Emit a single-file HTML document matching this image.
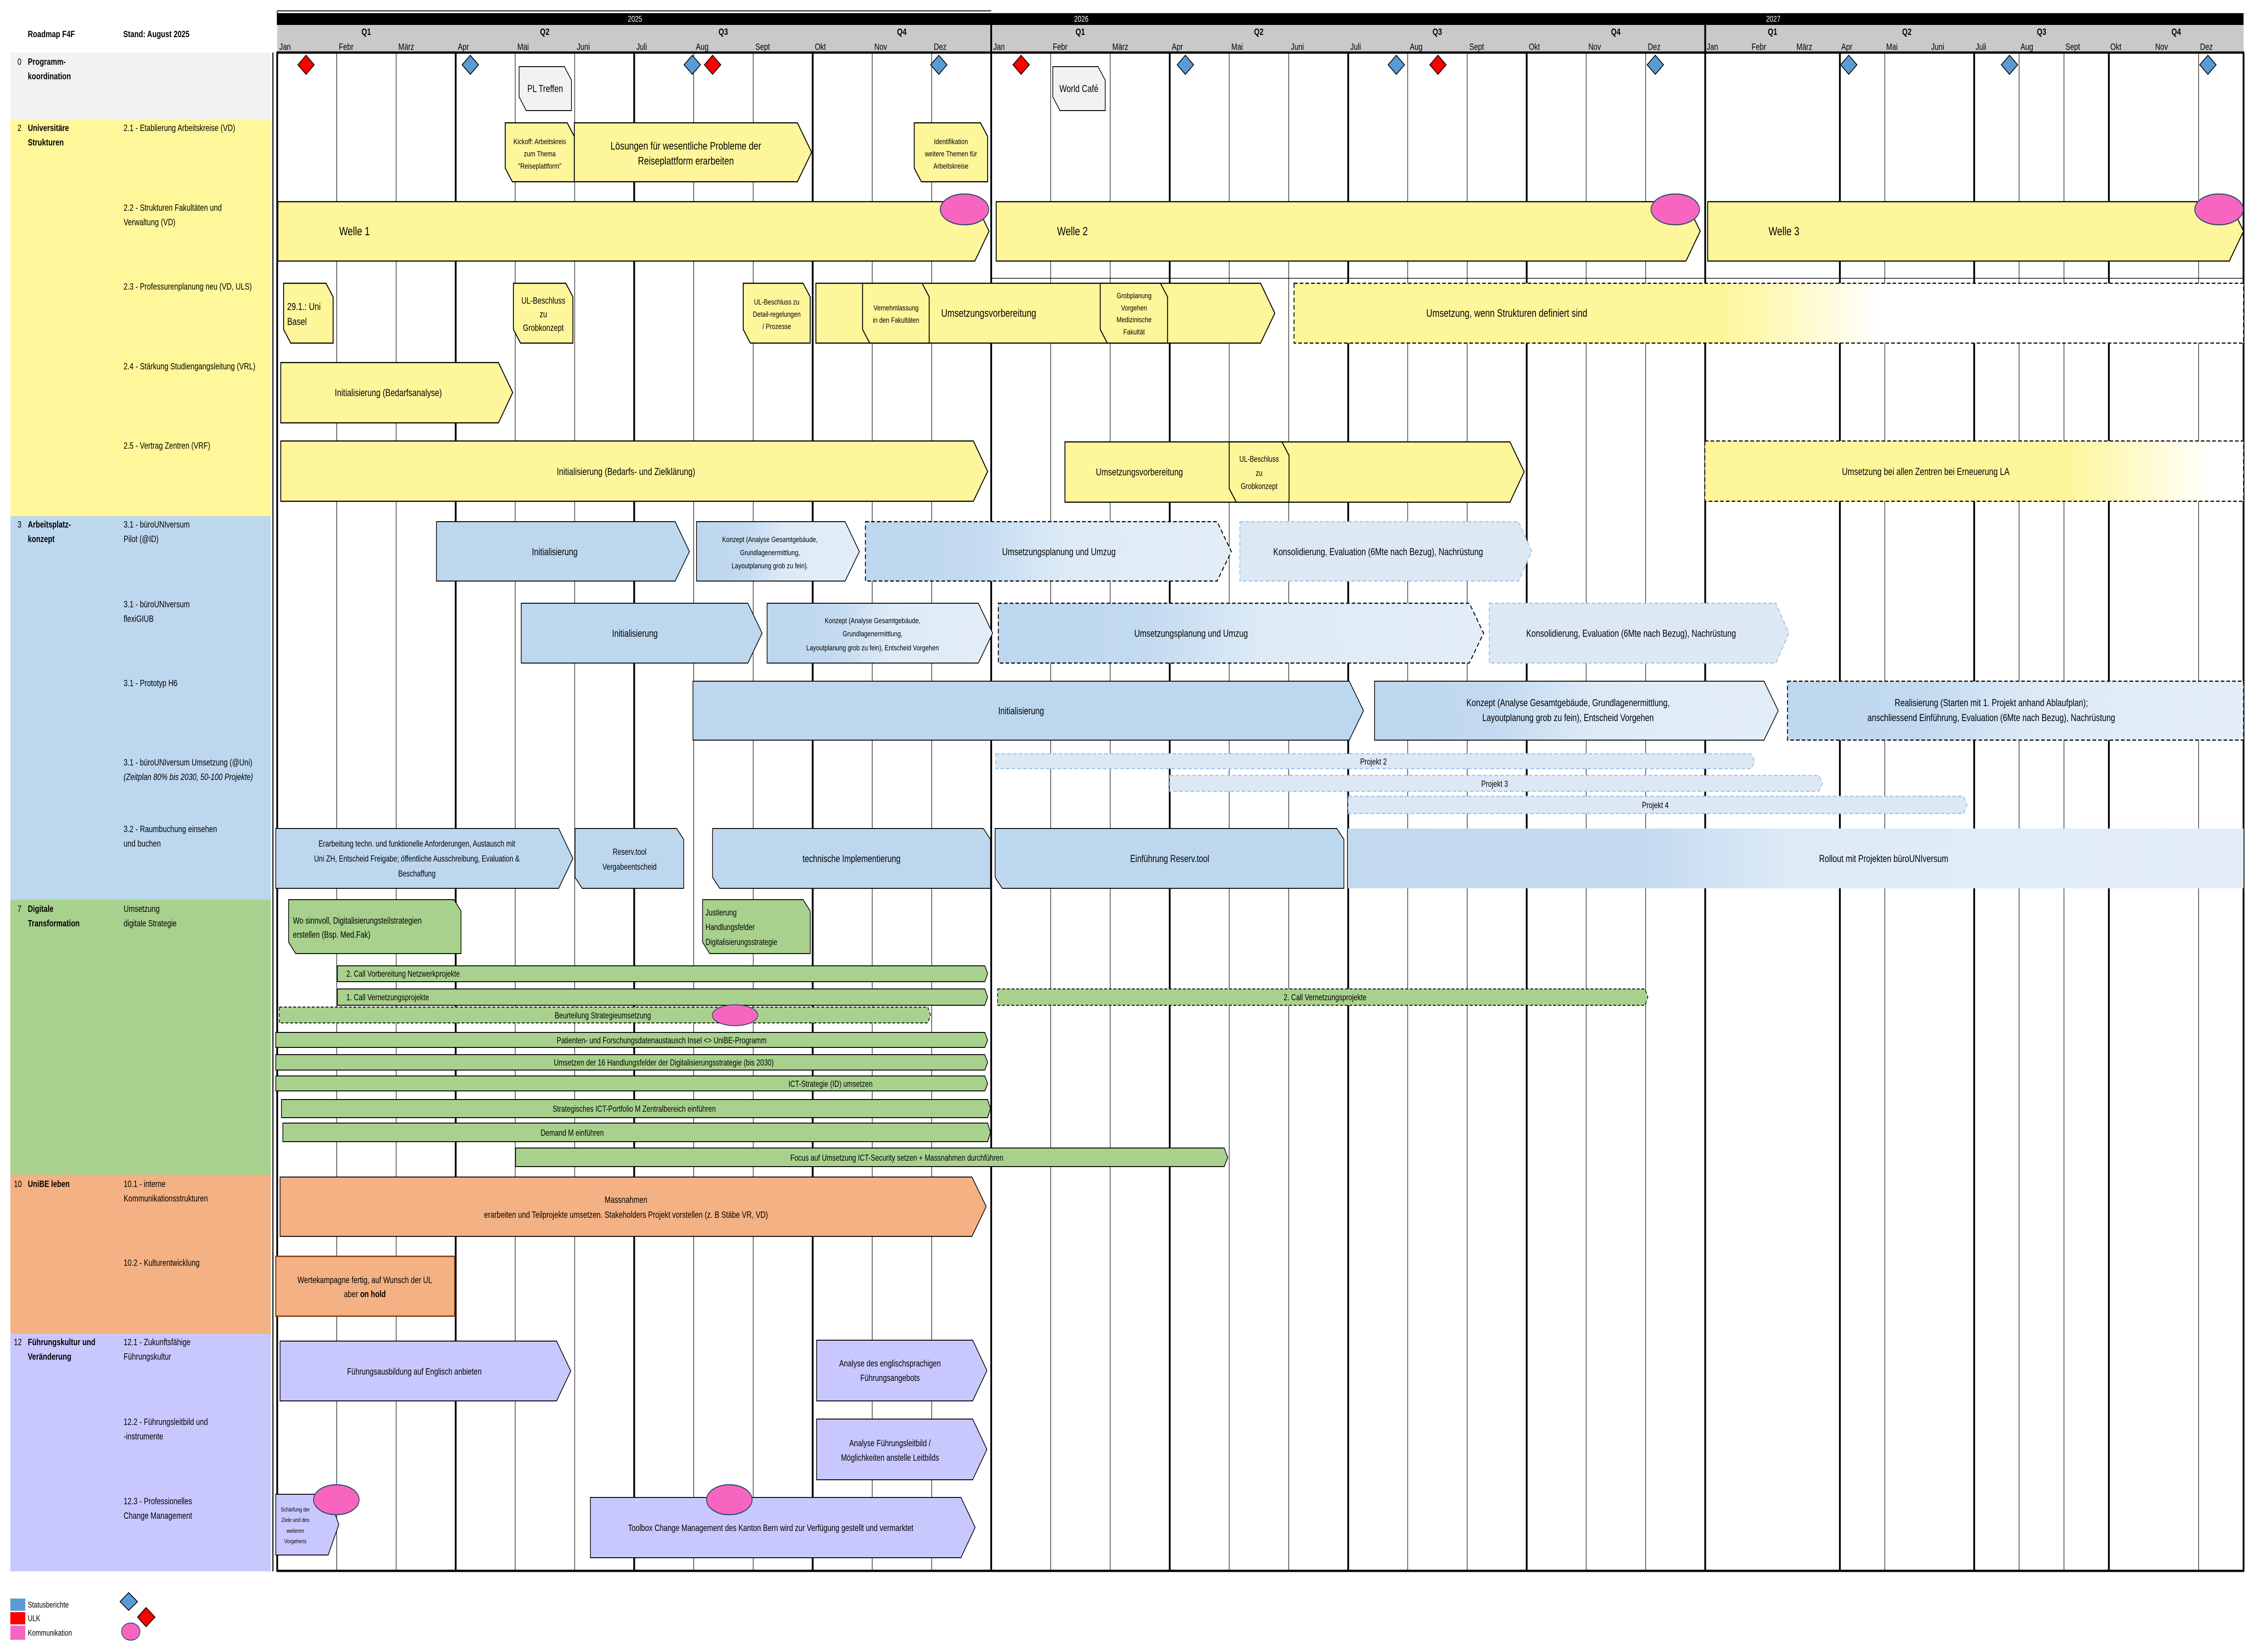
<!DOCTYPE html>
<html><head><meta charset="utf-8"><style>
html,body{margin:0;padding:0;background:#fff;overflow:hidden;}
svg{display:block;width:100vw;height:100vh;}
text{font-family:"Liberation Sans Narrow","Liberation Sans",sans-serif;fill:#000;}
</style></head><body>
<svg viewBox="0 0 6360 3645" preserveAspectRatio="none" xmlns="http://www.w3.org/2000/svg">
<defs>
<linearGradient id="gb" x1="0" x2="1" y1="0" y2="0"><stop offset="0" stop-color="#BDD7EE"/><stop offset="0.3" stop-color="#C3DAF0"/><stop offset="0.55" stop-color="#DEEBF7"/><stop offset="1" stop-color="#E2EDF8"/></linearGradient>
<linearGradient id="gr" x1="0" x2="1" y1="0" y2="0"><stop offset="0" stop-color="#C2D9EF"/><stop offset="0.33" stop-color="#C4DAEF"/><stop offset="0.5" stop-color="#DEEBF7"/><stop offset="1" stop-color="#E2EDF8"/></linearGradient>
<linearGradient id="gy1" x1="0" x2="1" y1="0" y2="0"><stop offset="0" stop-color="#FEF69A"/><stop offset="0.45" stop-color="#FEF69A"/><stop offset="0.62" stop-color="#FFFFFF"/><stop offset="1" stop-color="#FFFFFF"/></linearGradient>
<linearGradient id="gy2" x1="0" x2="1" y1="0" y2="0"><stop offset="0" stop-color="#FEF69A"/><stop offset="0.67" stop-color="#FEF69A"/><stop offset="0.94" stop-color="#FFFFFF"/><stop offset="1" stop-color="#FFFFFF"/></linearGradient>
</defs>

<rect x="29" y="116" width="731" height="148" fill="#F2F2F2"/>
<rect x="29" y="264" width="731" height="875" fill="#FFF799"/>
<rect x="29" y="1139" width="731" height="846" fill="#BDD7EE"/>
<rect x="29" y="1985" width="731" height="607" fill="#A9D18E"/>
<rect x="29" y="2592" width="731" height="351" fill="#F4B183"/>
<rect x="29" y="2943" width="731" height="524" fill="#C8C8FF"/>
<line x1="766" y1="116" x2="766" y2="3467" stroke="#000" stroke-width="3"/>

<rect x="778" y="29" width="5519" height="26" fill="#000"/>
<rect x="778" y="55" width="5519" height="61" fill="#C9C9C9"/>
<line x1="778" y1="24" x2="2782" y2="24" stroke="#000" stroke-width="2"/>
<line x1="778" y1="24" x2="778" y2="55" stroke="#000" stroke-width="2"/>

<g stroke="#000">
<g stroke-width="1.5">
<line x1="945" y1="116" x2="945" y2="3466"/><line x1="1112" y1="116" x2="1112" y2="3466"/>
<line x1="1446" y1="116" x2="1446" y2="3466"/><line x1="1613" y1="116" x2="1613" y2="3466"/>
<line x1="1947" y1="116" x2="1947" y2="3466"/><line x1="2114" y1="116" x2="2114" y2="3466"/>
<line x1="2448" y1="116" x2="2448" y2="3466"/><line x1="2615" y1="116" x2="2615" y2="3466"/>
<line x1="2949" y1="116" x2="2949" y2="3466"/><line x1="3116" y1="116" x2="3116" y2="3466"/>
<line x1="3450" y1="116" x2="3450" y2="3466"/><line x1="3617" y1="116" x2="3617" y2="3466"/>
<line x1="3951" y1="116" x2="3951" y2="3466"/><line x1="4118" y1="116" x2="4118" y2="3466"/>
<line x1="4452" y1="116" x2="4452" y2="3466"/><line x1="4619" y1="116" x2="4619" y2="3466"/>
<line x1="5290" y1="116" x2="5290" y2="3466"/><line x1="5667" y1="116" x2="5667" y2="3466"/>
<line x1="5793" y1="116" x2="5793" y2="3466"/><line x1="6171" y1="116" x2="6171" y2="3466"/>
<line x1="2782" y1="614" x2="6297" y2="614"/>
</g>
<g stroke-width="5">
<line x1="778" y1="116" x2="778" y2="3466"/><line x1="1279" y1="116" x2="1279" y2="3466"/>
<line x1="1780" y1="116" x2="1780" y2="3466"/><line x1="2281" y1="116" x2="2281" y2="3466"/>
<line x1="2782" y1="55" x2="2782" y2="3466"/><line x1="3283" y1="116" x2="3283" y2="3466"/>
<line x1="3784" y1="116" x2="3784" y2="3466"/><line x1="4285" y1="116" x2="4285" y2="3466"/>
<line x1="4786" y1="55" x2="4786" y2="3466"/><line x1="5164" y1="116" x2="5164" y2="3466"/>
<line x1="5541" y1="116" x2="5541" y2="3466"/><line x1="5919" y1="116" x2="5919" y2="3466"/>
<line x1="6297" y1="116" x2="6297" y2="3466"/>
<line x1="776" y1="116" x2="6299" y2="116"/>
<line x1="776" y1="3466" x2="6299" y2="3466"/>
</g>
</g>

<text x="78" y="82" font-size="20" font-weight="bold">Roadmap F4F</text>
<text x="346" y="82" font-size="20" font-weight="bold">Stand: August 2025</text>
<g font-size="18" text-anchor="middle"><text x="1782" y="48" style="fill:#fff">2025</text><text x="3035" y="48" style="fill:#fff">2026</text><text x="4977" y="48" style="fill:#fff">2027</text></g>
<g font-size="20" font-weight="bold" text-anchor="middle">
<text x="1028" y="77">Q1</text><text x="1529" y="77">Q2</text><text x="2030" y="77">Q3</text><text x="2531" y="77">Q4</text>
<text x="3032" y="77">Q1</text><text x="3533" y="77">Q2</text><text x="4034" y="77">Q3</text><text x="4535" y="77">Q4</text>
<text x="4975" y="77">Q1</text><text x="5352" y="77">Q2</text><text x="5730" y="77">Q3</text><text x="6108" y="77">Q4</text>
</g>
<g font-size="20">
<text x="784" y="110">Jan</text><text x="951" y="110">Febr</text><text x="1118" y="110">März</text><text x="1285" y="110">Apr</text><text x="1452" y="110">Mai</text><text x="1619" y="110">Juni</text><text x="1786" y="110">Juli</text><text x="1953" y="110">Aug</text><text x="2120" y="110">Sept</text><text x="2287" y="110">Okt</text><text x="2454" y="110">Nov</text><text x="2621" y="110">Dez</text>
<text x="2788" y="110">Jan</text><text x="2955" y="110">Febr</text><text x="3122" y="110">März</text><text x="3289" y="110">Apr</text><text x="3456" y="110">Mai</text><text x="3623" y="110">Juni</text><text x="3790" y="110">Juli</text><text x="3957" y="110">Aug</text><text x="4124" y="110">Sept</text><text x="4291" y="110">Okt</text><text x="4458" y="110">Nov</text><text x="4625" y="110">Dez</text>
<text x="4790" y="110">Jan</text><text x="4916" y="110">Febr</text><text x="5042" y="110">März</text><text x="5168" y="110">Apr</text><text x="5294" y="110">Mai</text><text x="5420" y="110">Juni</text><text x="5545" y="110">Juli</text><text x="5671" y="110">Aug</text><text x="5797" y="110">Sept</text><text x="5923" y="110">Okt</text><text x="6049" y="110">Nov</text><text x="6175" y="110">Dez</text>
</g>

<g font-size="20">
<text x="49" y="143">0</text><text x="78" y="143" font-weight="bold">Programm-</text><text x="78" y="175" font-weight="bold">koordination</text>
<text x="49" y="289">2</text><text x="78" y="289" font-weight="bold">Universitäre</text><text x="78" y="321" font-weight="bold">Strukturen</text>
<text x="347" y="289">2.1 - Etablierung Arbeitskreise  (VD)</text>
<text x="347" y="465">2.2 - Strukturen Fakultäten und</text><text x="347" y="497">Verwaltung (VD)</text>
<text x="347" y="639">2.3 - Professurenplanung neu (VD, ULS)</text>
<text x="347" y="815">2.4 - Stärkung Studiengangsleitung (VRL)</text>
<text x="347" y="990">2.5 - Vertrag Zentren (VRF)</text>
<text x="49" y="1164">3</text><text x="78" y="1164" font-weight="bold">Arbeitsplatz-</text><text x="78" y="1196" font-weight="bold">konzept</text>
<text x="347" y="1164">3.1 - büroUNIversum</text><text x="347" y="1196">Pilot (@ID)</text>
<text x="347" y="1340">3.1 - büroUNIversum</text><text x="347" y="1372">flexiGIUB</text>
<text x="347" y="1514">3.1 - Prototyp H6</text>
<text x="347" y="1689">3.1 - büroUNIversum Umsetzung (@Uni)</text><text x="347" y="1721" font-style="italic">(Zeitplan 80% bis 2030, 50-100 Projekte)</text>
<text x="347" y="1836">3.2 - Raumbuchung einsehen</text><text x="347" y="1868">und buchen</text>
<text x="49" y="2012">7</text><text x="78" y="2012" font-weight="bold">Digitale</text><text x="78" y="2044" font-weight="bold">Transformation</text>
<text x="347" y="2012">Umsetzung</text><text x="347" y="2044">digitale Strategie</text>
<text x="39" y="2619">10</text><text x="78" y="2619" font-weight="bold">UniBE leben</text>
<text x="347" y="2619">10.1 - interne</text><text x="347" y="2651">Kommunikationsstrukturen</text>
<text x="347" y="2793">10.2 - Kulturentwicklung</text>
<text x="39" y="2968">12</text><text x="78" y="2968" font-weight="bold">Führungskultur und</text><text x="78" y="3000" font-weight="bold">Veränderung</text>
<text x="347" y="2968">12.1 - Zukunftsfähige</text><text x="347" y="3000">Führungskultur</text>
<text x="347" y="3144">12.2 - Führungsleitbild und</text><text x="347" y="3176">-instrumente</text>
<text x="347" y="3319">12.3 - Professionelles</text><text x="347" y="3351">Change Management</text>
</g>

<g stroke="#000" stroke-width="2">
<g fill="#5B9BD5">
<polygon points="1320,122 1343,143 1320,164 1297,143"/><polygon points="1943,122 1966,143 1943,164 1920,143"/><polygon points="2635,122 2658,143 2635,164 2612,143"/>
<polygon points="3327,122 3350,143 3327,164 3304,143"/><polygon points="3919,122 3942,143 3919,164 3896,143"/><polygon points="4646,122 4669,143 4646,164 4623,143"/>
<polygon points="5189,122 5212,143 5189,164 5166,143"/><polygon points="5640,122 5663,143 5640,164 5617,143"/><polygon points="6197,122 6220,143 6197,164 6174,143"/>
</g>
<g fill="#FF0000">
<polygon points="859,122 882,143 859,164 836,143"/><polygon points="2000,122 2023,143 2000,164 1977,143"/><polygon points="2866,122 2889,143 2866,164 2843,143"/><polygon points="4036,122 4059,143 4036,164 4013,143"/>
</g>
<g fill="#F2F2F2">
<polygon points="1457,147 1584,147 1604,177 1604,244 1477,244 1457,214"/>
<polygon points="2955,147 3082,147 3102,177 3102,244 2975,244 2955,214"/>
</g>
</g>
<g font-size="22" text-anchor="middle"><text x="1530" y="203">PL Treffen</text><text x="3028" y="203">World Café</text></g>

<g stroke="#000" stroke-width="2.5" fill="#FEF69A">
<polygon points="1418,271 1592,271 1612,301 1612,401 1438,401 1418,371"/>
<polygon points="1612,271 2238,271 2278,336 2238,401 1612,401"/>
<polygon points="2566,271 2752,271 2772,301 2772,401 2586,401 2566,371"/>
<polygon points="780,445 2736,445 2776,510 2736,576 780,576"/>
<polygon points="2796,445 4732,445 4772,510 4732,576 2796,576"/>
<polygon points="4793,445 6257,445 6297,510 6257,576 4793,576"/>
<polygon points="796,625 915,625 935,655 935,757 816,757 796,727"/>
<polygon points="1441,625 1588,625 1608,655 1608,757 1461,757 1441,727"/>
<polygon points="2086,625 2254,625 2274,655 2274,757 2106,757 2086,727"/>
<polygon points="2290,625 3538,625 3578,691 3538,757 2290,757"/>
<polygon points="2421,625 2588,625 2608,655 2608,757 2441,757 2421,727"/>
<polygon points="3088,625 3257,625 3277,655 3277,757 3108,757 3088,727"/>
<polygon points="788,800 1399,800 1439,866 1399,933 788,933"/>
<polygon points="788,973 2732,973 2772,1040 2732,1106 788,1106"/>
<polygon points="2989,975 4238,975 4278,1041 4238,1108 2989,1108"/>
<polygon points="3450,975 3598,975 3618,1005 3618,1108 3470,1108 3450,1078"/>
</g>
<g stroke="#000" stroke-width="2.5" stroke-dasharray="10,6">
<rect x="3632" y="625" width="2665" height="132" fill="url(#gy1)"/>
<rect x="4785" y="973" width="1512" height="133" fill="url(#gy2)"/>
</g>
<g fill="#F865C0" stroke="#2F4F6F" stroke-width="2.5">
<ellipse cx="2707" cy="462" rx="68" ry="34"/><ellipse cx="4702" cy="462" rx="68" ry="34"/><ellipse cx="6228" cy="462" rx="68" ry="34"/>
</g>
<g text-anchor="middle">
<g font-size="17"><text x="1515" y="318">Kickoff: Arbeitskreis</text><text x="1515" y="345">zum Thema</text><text x="1515" y="372">"Reiseplattform"</text>
<text x="2669" y="318">Identifikation</text><text x="2669" y="345">weitere Themen für</text><text x="2669" y="372">Arbeitskreise</text></g>
<g font-size="24"><text x="1925" y="330">Lösungen für wesentliche Probleme der</text><text x="1925" y="363">Reiseplattform erarbeiten</text></g>
<g font-size="26"><text x="995" y="519">Welle 1</text><text x="3010" y="519">Welle 2</text><text x="5007" y="519">Welle 3</text></g>
<g font-size="20"><text x="1525" y="670">UL-Beschluss</text><text x="1525" y="700">zu</text><text x="1525" y="730">Grobkonzept</text></g>
<g font-size="17"><text x="2180" y="672">UL-Beschluss zu</text><text x="2180" y="699">Detail-regelungen</text><text x="2180" y="726">/ Prozesse</text>
<text x="2515" y="685">Vernehmlassung</text><text x="2515" y="712">in den Fakultäten</text>
<text x="3183" y="658">Grobplanung</text><text x="3183" y="685">Vorgehen</text><text x="3183" y="711">Medizinische</text><text x="3183" y="738">Fakultät</text></g>
<g font-size="24"><text x="2775" y="699">Umsetzungsvorbereitung</text><text x="4229" y="699">Umsetzung, wenn Strukturen definiert sind</text></g>
<g font-size="22"><text x="1090" y="874">Initialisierung (Bedarfsanalyse)</text><text x="1757" y="1048">Initialisierung (Bedarfs- und Zielklärung)</text>
<text x="3198" y="1049">Umsetzungsvorbereitung</text><text x="5405" y="1048">Umsetzung bei allen Zentren bei Erneuerung LA</text></g>
<g font-size="18"><text x="3534" y="1019">UL-Beschluss</text><text x="3534" y="1050">zu</text><text x="3534" y="1079">Grobkonzept</text></g>
</g>
<g font-size="22"><text x="806" y="684">29.1.: Uni</text><text x="806" y="717">Basel</text></g>

<g stroke="#000" stroke-width="2">
<polygon fill="#BDD7EE" points="1225,1151 1895,1151 1935,1217 1895,1282 1225,1282"/>
<polygon fill="url(#gb)" points="1955,1151 2372,1151 2412,1217 2372,1282 1955,1282"/>
<polygon fill="#BDD7EE" points="1463,1331 2099,1331 2139,1397 2099,1463 1463,1463"/>
<polygon fill="url(#gb)" points="2153,1331 2746,1331 2786,1397 2746,1463 2153,1463"/>
<polygon fill="#BDD7EE" points="1945,1503 3787,1503 3827,1568 3787,1633 1945,1633"/>
<polygon fill="url(#gb)" points="3858,1503 4951,1503 4991,1568 4951,1633 3858,1633"/>
<polygon fill="#BDD7EE" points="774,1828 1568,1828 1608,1894 1568,1960 774,1960"/>
<polygon fill="#BDD7EE" points="1614,1828 1899,1828 1919,1852 1919,1960 1634,1960 1614,1936"/>
<polygon fill="#BDD7EE" points="2000,1828 2760,1828 2780,1852 2780,1960 2020,1960 2000,1936"/>
<polygon fill="#BDD7EE" points="2793,1828 3752,1828 3772,1852 3772,1960 2813,1960 2793,1936"/>
<rect fill="url(#gr)" stroke="none" x="3782" y="1828" width="2515" height="132"/>
<line x1="3782" y1="1828" x2="3782" y2="1960"/>
</g>
<g stroke="#000" stroke-width="2.5" stroke-dasharray="10,6">
<polygon fill="url(#gb)" points="2429,1151 3416,1151 3456,1217 3416,1282 2429,1282"/>
<polygon fill="url(#gb)" points="2802,1331 4124,1331 4164,1397 4124,1463 2802,1463"/>
<rect fill="url(#gb)" x="5017" y="1503" width="1280" height="130"/>
</g>
<g stroke="#9DC3E6" stroke-width="2.5" stroke-dasharray="10,6" fill="#DDE8F5">
<polygon points="3480,1151 4262,1151 4299,1217 4262,1282 3480,1282"/>
<polygon points="4180,1331 4984,1331 5021,1397 4984,1463 4180,1463"/>
<polygon points="2795,1663 4915,1663 4925,1680 4915,1696 2795,1696"/>
<polygon points="3283,1711 5105,1711 5115,1728 5105,1746 3283,1746"/>
<polygon points="3784,1757 5511,1757 5521,1776 5511,1795 3784,1795"/>
</g>
<g text-anchor="middle">
<g font-size="22"><text x="1557" y="1225">Initialisierung</text><text x="2972" y="1225">Umsetzungsplanung und Umzug</text><text x="3868" y="1225">Konsolidierung, Evaluation (6Mte nach Bezug), Nachrüstung</text>
<text x="1782" y="1405">Initialisierung</text><text x="3343" y="1405">Umsetzungsplanung und Umzug</text><text x="4578" y="1405">Konsolidierung, Evaluation (6Mte nach Bezug), Nachrüstung</text>
<text x="2866" y="1576">Initialisierung</text>
<text x="4401" y="1558">Konzept (Analyse Gesamtgebäude, Grundlagenermittlung,</text><text x="4401" y="1591">Layoutplanung grob zu fein), Entscheid Vorgehen</text>
<text x="5589" y="1558">Realisierung (Starten mit 1. Projekt anhand Ablaufplan);</text><text x="5589" y="1591">anschliessend Einführung, Evaluation (6Mte nach Bezug), Nachrüstung</text>
<text x="2390" y="1902">technische Implementierung</text><text x="3283" y="1902">Einführung Reserv.tool</text><text x="5287" y="1902">Rollout mit Projekten büroUNIversum</text></g>
<g font-size="17"><text x="2161" y="1196">Konzept (Analyse Gesamtgebäude,</text><text x="2161" y="1225">Grundlagenermittlung,</text><text x="2161" y="1254">Layoutplanung grob zu fein).</text>
<text x="2449" y="1375">Konzept (Analyse Gesamtgebäude,</text><text x="2449" y="1404">Grundlagenermittlung,</text><text x="2449" y="1435">Layoutplanung grob zu fein), Entscheid Vorgehen</text></g>
<g font-size="19"><text x="3855" y="1687">Projekt 2</text><text x="4195" y="1736">Projekt 3</text><text x="4646" y="1783">Projekt 4</text>
<text x="1170" y="1868">Erarbeitung techn. und funktionelle Anforderungen, Austausch mit</text><text x="1170" y="1901">Uni ZH, Entscheid Freigabe; öffentliche Ausschreibung, Evaluation &amp;</text><text x="1170" y="1934">Beschaffung</text>
<text x="1767" y="1886">Reserv.tool</text><text x="1767" y="1919">Vergabeentscheid</text></g>
</g>

<g stroke="#000" stroke-width="2" fill="#A9D18E">
<polygon points="810,1985 1274,1985 1294,2010 1294,2104 830,2104 810,2079"/>
<polygon points="1972,1985 2254,1985 2274,2010 2274,2104 1992,2104 1972,2079"/>
<polygon points="947,2131 2764,2131 2772,2148 2764,2166 947,2166"/>
<polygon points="947,2182 2764,2182 2772,2200 2764,2218 947,2218"/>
<polygon points="774,2278 2764,2278 2772,2295 2764,2311 774,2311"/>
<polygon points="774,2327 2764,2327 2772,2344 2764,2361 774,2361"/>
<polygon points="774,2374 2764,2374 2772,2391 2764,2407 774,2407"/>
<polygon points="790,2426 2772,2426 2780,2446 2772,2466 790,2466"/>
<polygon points="794,2478 2772,2478 2780,2499 2772,2519 794,2519"/>
<polygon points="1447,2533 3436,2533 3446,2554 3436,2574 1447,2574"/>
</g>
<g stroke="#000" stroke-width="2" fill="#A9D18E" stroke-dasharray="8,5">
<polygon points="2800,2182 4617,2182 4625,2200 4617,2218 2800,2218"/>
<polygon points="784,2222 2604,2222 2612,2240 2604,2257 784,2257"/>
</g>
<ellipse cx="2063" cy="2240" rx="64" ry="23" fill="#F865C0" stroke="#2F4F6F" stroke-width="2"/>
<g font-size="20"><text x="822" y="2038">Wo sinnvoll, Digitalisierungsteilstrategien</text><text x="822" y="2069">erstellen (Bsp. Med.Fak)</text></g>
<g font-size="19"><text x="1980" y="2020">Justierung</text><text x="1980" y="2052">Handlungsfelder</text><text x="1980" y="2085">Digitalisierungsstrategie</text>
<text x="972" y="2155">2. Call Vorbereitung Netzwerkprojekte</text><text x="972" y="2207">1. Call Vernetzungsprojekte</text></g>
<g font-size="19" text-anchor="middle">
<text x="3719" y="2207">2. Call Vernetzungsprojekte</text>
<text x="1692" y="2247">Beurteilung Strategieumsetzung</text>
<text x="1857" y="2302">Patienten- und Forschungsdatenaustausch Insel &lt;&gt; UniBE-Programm</text>
<text x="1863" y="2351">Umsetzen der 16 Handlungsfelder der Digitalisierungsstrategie (bis 2030)</text>
<text x="2331" y="2398">ICT-Strategie (ID) umsetzen</text>
<text x="1780" y="2453">Strategisches ICT-Portfolio M Zentralbereich einführen</text>
<text x="1606" y="2506">Demand M einführen</text>
<text x="2517" y="2561">Focus auf Umsetzung ICT-Security setzen + Massnahmen durchführen</text>
</g>

<polygon points="786,2597 2728,2597 2768,2662 2728,2728 786,2728" fill="#F4B183" stroke="#000" stroke-width="2"/>
<rect x="774" y="2772" width="502" height="132" fill="#F4B183" stroke="#843C0C" stroke-width="3"/>
<g font-size="20" text-anchor="middle">
<text x="1757" y="2654">Massnahmen</text><text x="1757" y="2687">erarbeiten und Teilprojekte umsetzen. Stakeholders Projekt vorstellen (z. B Stäbe VR, VD)</text>
<text x="1024" y="2831">Wertekampagne fertig, auf Wunsch der UL</text><text x="1024" y="2862">aber <tspan font-weight="bold">on hold</tspan></text>
</g>

<g stroke="#000" stroke-width="2" fill="#C8C8FF">
<polygon points="786,2959 1562,2959 1602,3025 1562,3091 786,3091"/>
<polygon points="2292,2957 2730,2957 2770,3024 2730,3091 2292,3091"/>
<polygon points="2292,3131 2730,3131 2770,3198 2730,3265 2292,3265"/>
<polygon points="774,3297 921,3297 951,3364 921,3431 774,3431"/>
<polygon points="1657,3304 2697,3304 2737,3370 2697,3437 1657,3437"/>
</g>
<g fill="#F865C0" stroke="#2F4F6F" stroke-width="2.5">
<ellipse cx="944" cy="3309" rx="64" ry="33"/><ellipse cx="2047" cy="3309" rx="64" ry="33"/>
</g>
<g font-size="20" text-anchor="middle">
<text x="1163" y="3033">Führungsausbildung auf Englisch anbieten</text>
<text x="2498" y="3015">Analyse des englischsprachigen</text><text x="2498" y="3047">Führungsangebots</text>
<text x="2498" y="3191">Analyse Führungsleitbild /</text><text x="2498" y="3223">Möglichkeiten anstelle Leitbilds</text>
<text x="2163" y="3378">Toolbox Change Management des Kanton Bern wird zur Verfügung gestellt und vermarktet</text>
</g>
<g font-size="13" text-anchor="middle"><text x="829" y="3335">Schärfung der</text><text x="829" y="3358">Ziele und des</text><text x="829" y="3382">weiteren</text><text x="829" y="3405">Vorgehens</text></g>

<rect x="29" y="3527" width="42" height="27" fill="#5B9BD5"/>
<rect x="29" y="3557" width="42" height="27" fill="#FF0000"/>
<rect x="29" y="3587" width="42" height="31" fill="#F865C0"/>
<g font-size="18"><text x="78" y="3547">Statusberichte</text><text x="78" y="3577">ULK</text><text x="78" y="3609">Kommunikation</text></g>
<polygon points="361,3514 386,3534 361,3553 337,3534" fill="#5B9BD5" stroke="#000" stroke-width="2"/>
<polygon points="410,3547 435,3568 410,3589 386,3568" fill="#FF0000" stroke="#000" stroke-width="2"/>
<ellipse cx="367" cy="3600" rx="26" ry="19" fill="#F865C0" stroke="#2F4F6F" stroke-width="2"/>
</svg>
</body></html>
